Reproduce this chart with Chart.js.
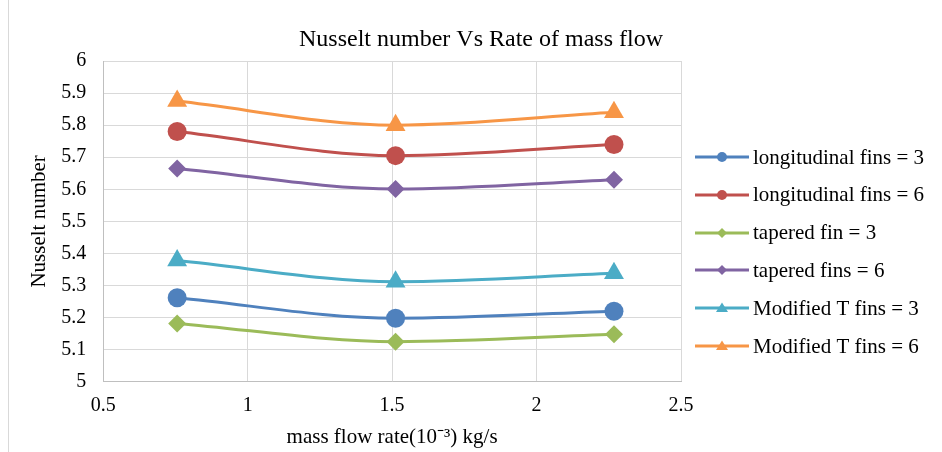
<!DOCTYPE html>
<html lang="en">
<head>
  <meta charset="UTF-8" />
  <title>Nusselt number Vs Rate of mass flow</title>
  <script src="https://cdn.jsdelivr.net/npm/chart.js"></script>
  <style>
    html, body { margin: 0; padding: 0; background: #fff; }
    #wrap { position: relative; width: 942px; height: 452px; }
    #frame { position: absolute; left: 8px; top: 0; width: 1px; height: 452px; background: #d9d9d9; }
  </style>
</head>
<body>
  <div id="wrap">
    <div id="frame"></div>
    <canvas id="nuChart" width="942" height="452"></canvas>
  </div>

  <script>
    // mass flow rate (10^-3 kg/s)
    const massFlow = [0.756, 1.512, 2.268];

    const longFins3 = [5.262, 5.198, 5.220];
    const longFins6 = [5.780, 5.705, 5.740];
    const taperFin3 = [5.182, 5.125, 5.148];
    const taperFins6 = [5.665, 5.601, 5.630];
    const modT3 = [5.378, 5.312, 5.338];
    const modT6 = [5.875, 5.800, 5.840];

    const seriesNames = [
      'longitudinal fins = 3',
      'longitudinal fins = 6',
      'tapered fin = 3',
      'tapered fins = 6',
      'Modified T fins = 3',
      'Modified T fins = 6'
    ];
    const seriesValues = [longFins3, longFins6, taperFin3, taperFins6, modT3, modT6];
    const seriesColors = ['#4f81bd', '#c0504d', '#9bbb59', '#8064a2', '#4bacc6', '#f79646'];
    const seriesMarkers = ['circle', 'circle', 'rectRot', 'rectRot', 'triangle', 'triangle'];
    const markerSizes = { circle: 9.5, rectRot: 9, triangle: 11.5 };

    const chartTitle = 'Nusselt number Vs Rate of mass flow';
    const FONT = "'Liberation Serif', 'Times New Roman', serif";

    // legend swatch: line with a small marker in the middle
    function legendSwatch(color, marker) {
      const c = document.createElement('canvas');
      c.width = 54; c.height = 14;
      const g = c.getContext('2d');
      g.strokeStyle = color; g.fillStyle = color; g.lineWidth = 3;
      g.beginPath(); g.moveTo(0, 7); g.lineTo(54, 7); g.stroke();
      g.beginPath();
      if (marker === 'circle') {
        g.arc(27, 7, 5, 0, Math.PI * 2);
      } else if (marker === 'rectRot') {
        g.moveTo(27, 2); g.lineTo(32, 7); g.lineTo(27, 12); g.lineTo(22, 7);
      } else {
        g.moveTo(27, 1.5); g.lineTo(33, 11); g.lineTo(21, 11);
      }
      g.closePath(); g.fill();
      return c;
    }

    // title centred over the whole frame and legend on the right, Excel style
    const frameDecor = {
      id: 'frameDecor',
      afterDraw(chart) {
        const ctx = chart.ctx;
        ctx.save();
        ctx.fillStyle = '#000';
        ctx.textBaseline = 'middle';
        ctx.textAlign = 'center';
        ctx.font = '24px ' + FONT;
        ctx.fillText(chartTitle, 481, 40);

        ctx.textAlign = 'left';
        ctx.font = '21px ' + FONT;
        chart.data.datasets.forEach((ds, i) => {
          const y = 157 + i * 37.8;
          ctx.drawImage(ds.legendImg, 695, Math.round(y) - 7);
          ctx.fillText(ds.label, 753, y + 1);
        });
        ctx.restore();
      }
    };

    const datasets = seriesNames.map((name, i) => ({
      label: name,
      data: massFlow.map((x, j) => ({ x: x, y: seriesValues[i][j] })),
      borderColor: seriesColors[i],
      backgroundColor: seriesColors[i],
      borderWidth: 3,
      pointStyle: seriesMarkers[i],
      pointRadius: markerSizes[seriesMarkers[i]],
      pointHoverRadius: markerSizes[seriesMarkers[i]],
      pointBorderWidth: 0,
      cubicInterpolationMode: 'monotone',
      legendImg: legendSwatch(seriesColors[i], seriesMarkers[i])
    }));

    new Chart(document.getElementById('nuChart'), {
      type: 'line',
      data: { datasets: datasets },
      plugins: [frameDecor],
      options: {
        responsive: false,
        animation: false,
        layout: { padding: { left: 20, right: 261, top: 61, bottom: 0 } },
        plugins: {
          title: { display: false },
          legend: { display: false },
          tooltip: { enabled: false }
        },
        scales: {
          x: {
            type: 'linear',
            min: 0.5,
            max: 2.5,
            ticks: {
              stepSize: 0.5,
              color: '#000',
              padding: 12,
              font: { family: FONT, size: 20 },
              callback: v => String(Number(v.toFixed(1)))
            },
            grid: { color: '#d9d9d9', drawTicks: false },
            border: { color: '#bfbfbf' },
            title: {
              display: true,
              text: 'mass flow rate(10⁻³) kg/s',
              color: '#000',
              font: { family: FONT, size: 21 },
              padding: { top: -5, bottom: 2 }
            }
          },
          y: {
            min: 5,
            max: 6,
            ticks: {
              stepSize: 0.1,
              color: '#000',
              padding: 17,
              font: { family: FONT, size: 20 },
              callback: v => String(Number(v.toFixed(1)))
            },
            grid: { color: '#d9d9d9', drawTicks: false },
            border: { color: '#bfbfbf' },
            title: {
              display: true,
              text: 'Nusselt number',
              color: '#000',
              font: { family: FONT, size: 21 },
              padding: { top: 7, bottom: -8 }
            }
          }
        }
      }
    });
  </script>
</body>
</html>
